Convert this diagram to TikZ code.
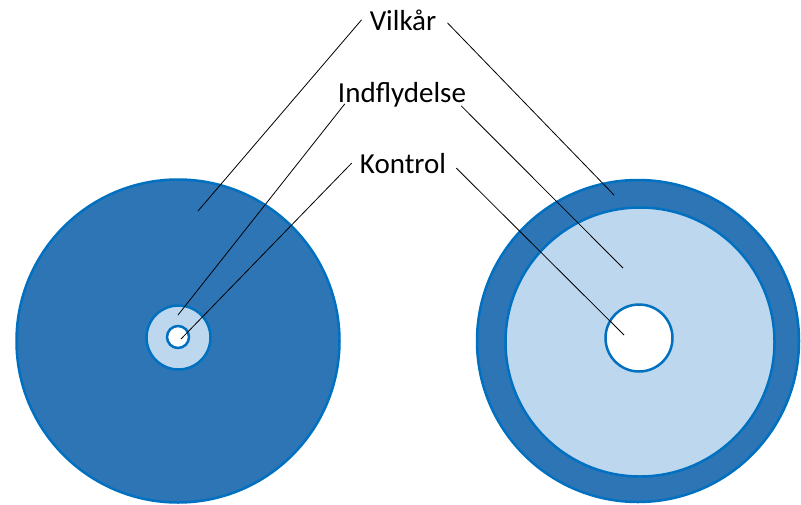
\documentclass[tikz,border=0pt]{standalone}
\usepackage{fontspec}
\setmainfont{Carlito}
\definecolor{darkdisc}{RGB}{46,117,182}
\definecolor{lightdisc}{RGB}{189,215,238}
\definecolor{discedge}{RGB}{0,112,192}
\tikzset{
    disc/.style={circle, draw=discedge, line width=2.5pt, inner sep=0pt},
    label/.style={inner sep=0pt, anchor=base, font=\fontsize{29}{34}\selectfont},
    pointer/.style={line width=0.8pt, black}
}
\begin{document}
\begin{tikzpicture}[x=1pt,y=-1pt]
    \useasboundingbox (0,0) rectangle (801,504);

    % Left discs
    \node[disc, fill=darkdisc, minimum size=323pt] (leftouter) at (178,341) {};
    \node[disc, fill=lightdisc, minimum size=64pt] (leftmid) at (178.5,337.5) {};
    \node[disc, fill=white, minimum size=22pt] (leftinner) at (178,337) {};

    % Right discs
    \node[disc, fill=darkdisc, minimum size=322pt] (rightouter) at (638,341) {};
    \node[disc, fill=lightdisc, minimum size=269pt] (rightmid) at (640,342) {};
    \node[disc, fill=white, minimum size=67pt] (rightinner) at (639,338) {};

    % Labels
    \node[label] (vilkar) at (403,30) {Vilkår};
    \node[label] (indfl) at (402,102) {Indflydelse};
    \node[label] (kontrol) at (403,173) {Kontrol};

    % Pointer ends
    \coordinate (vilkarL) at (198,211);
    \coordinate (vilkarR) at (614,195);
    \coordinate (indflL) at (178,315);
    \coordinate (indflR) at (623,268);
    \coordinate (kontrolL) at (181,339);
    \coordinate (kontrolR) at (624,335);

    % Pointers
    \draw[pointer] ([xshift=-8pt]vilkar.west) -- (vilkarL);
    \draw[pointer] ([xshift=11pt,yshift=-3pt]vilkar.east) -- (vilkarR);
    \draw[pointer] ([xshift=7pt,yshift=3pt]indfl.south west) -- (indflL);
    \draw[pointer] ([xshift=-5pt,yshift=1pt]indfl.south east) -- (indflR);
    \draw[pointer] ([xshift=-8pt]kontrol.west) -- (kontrolL);
    \draw[pointer] ([xshift=10pt,yshift=-5pt]kontrol.east) -- (kontrolR);
\end{tikzpicture}
\end{document}
